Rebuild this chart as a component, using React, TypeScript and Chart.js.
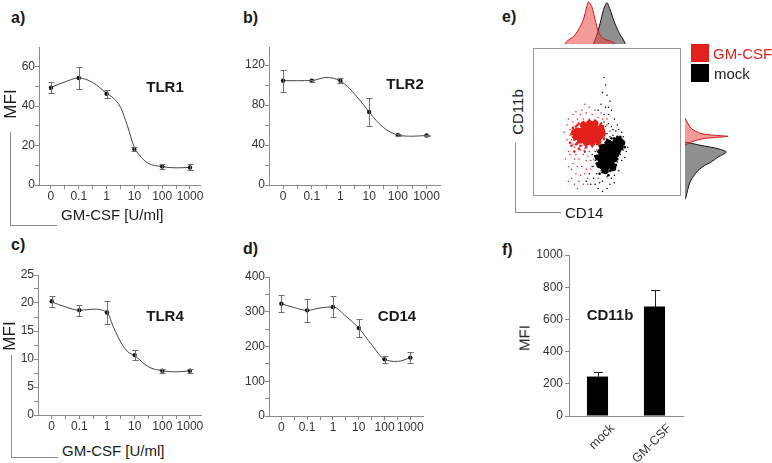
import React, { useEffect, useRef } from 'react';
import { Chart, registerables } from 'chart.js';
Chart.register(...registerables);

// ---------- DATA ----------
const doseLabels = ['0', '0.1', '1', '10', '100', '1000'];
const doseIndex = [0, 1, 2, 3, 4, 5];

const tlr1Mean = [49.3, 54.3, 46.3, 18.3, 9.4, 8.9];
const tlr1Sd = [2.8, 5.6, 2.0, 0.9, 1.2, 1.5];
const tlr1Fit = [[0, 49.5], [0.5, 52.3], [1, 54.3], [1.5, 52], [2, 46.5], [2.25, 44], [2.5, 39.5], [2.75, 30], [3, 19], [3.25, 14], [3.5, 11], [4, 9.3], [4.5, 8.7], [5, 8.9]];

const tlr2Mean = [104.3, 104.3, 104.3, 73, 50, 49.5];
const tlr2Sd = [10.8, 0.8, 2.3, 13.8, 1, 0.8];
const tlr2Fit = [[0, 104.3], [0.5, 104.3], [1, 104.5], [1.5, 107.5], [2, 104], [2.33, 96], [2.67, 85], [3, 73], [3.33, 62], [3.67, 54], [4, 50], [4.5, 48.8], [5, 49.5]];

const tlr4Mean = [20.3, 18.7, 18.3, 10.7, 7.9, 7.9];
const tlr4Sd = [1.0, 1.0, 2.0, 0.9, 0.4, 0.4];
const tlr4Fit = [[0, 20.2], [0.5, 19.3], [1, 18.7], [1.5, 18.9], [2, 18.3], [2.25, 15.5], [2.5, 13], [2.75, 11.3], [3, 10.6], [3.5, 8.6], [4, 7.9], [4.5, 7.7], [5, 7.9]];

const cd14Mean = [323, 304, 314, 253, 163, 168];
const cd14Sd = [24, 33, 30, 26, 10, 16];
const cd14Fit = [[0, 323], [0.5, 312], [1, 304], [1.5, 311], [2, 314], [2.5, 287], [3, 253], [3.5, 205], [4, 163], [4.5, 157], [5, 168]];

const cd11bGroups = ['mock', 'GM-CSF'];
const cd11bMean = [245, 680];
const cd11bSd = [30, 100];

// flow cytometry (CD14, CD11b), arbitrary 0-100 units
const gmCore = [[31, 42], [33, 44], [33, 40], [35, 46], [35, 42], [35, 38], [37, 44], [37, 40], [37, 47], [39, 42], [39, 45], [39, 38], [41, 44], [41, 40], [41, 47], [43, 42], [43, 45], [43, 39], [45, 43], [45, 40], [46, 46], [30, 44], [32, 37.5], [36, 36], [40, 36], [44, 37], [38, 49], [42, 49], [34, 48], [47, 42], [29, 40], [28, 43]];
const gmMid = [[27, 46], [28, 38], [29, 47], [30, 36], [31, 49], [32, 34], [34, 50], [36, 33], [38, 51], [40, 34], [42, 51], [44, 35], [46, 49], [48, 44], [48, 39], [26, 42], [27, 40], [30, 48], [45, 37], [47, 47], [33, 47.5], [29, 35], [31, 32], [35, 30], [26, 34], [28, 30], [25, 36]];
const gmSparse = [[24, 30], [25, 45], [26, 38], [27, 22], [27, 50], [28, 33], [29, 15], [29, 28], [30, 52], [30, 35], [31, 25], [31, 10], [32, 31], [32, 55], [33, 20], [33, 34], [34, 28], [34, 52], [35, 15], [35, 32], [36, 24], [36, 56], [37, 8], [38, 30], [38, 52], [39, 18], [40, 33], [40, 55], [41, 25], [42, 50], [43, 31], [44, 53], [45, 48], [46, 35], [47, 52], [48, 45], [50, 48], [52, 44], [24, 52], [26, 18], [28, 8], [30, 20], [44, 12], [38, 60], [42, 58], [25, 41], [27, 35], [23, 48], [22, 25], [23, 38], [24, 20], [25, 28], [26, 12], [28, 25], [30, 5], [32, 14], [34, 8], [36, 18], [37, 27], [39, 24], [41, 20], [33, 58], [35, 62], [29, 57], [27, 55], [31, 45], [50, 52], [46, 56], [24, 10], [37, 12], [21, 43]];
const mockCore = [[45, 21], [46, 24], [47, 27], [48, 23], [48, 30], [49, 26], [50, 20], [50, 29], [50, 33], [51, 24], [52, 27], [52, 31], [53, 35], [53, 22], [54, 29], [55, 33], [55, 25], [56, 37], [57, 30], [57, 35], [58, 38], [59, 33], [47, 33], [46, 30], [44, 26], [51, 36], [54, 19], [49, 17], [60, 36], [56, 28], [48, 19]];
const mockMid = [[43, 22], [44, 30], [45, 34], [46, 19], [47, 16], [49, 36], [50, 38], [52, 17], [53, 39], [55, 39], [56, 21], [57, 25], [58, 29], [59, 31], [60, 38], [61, 35], [62, 33], [55, 18], [51, 14], [45, 15], [42, 27], [59, 40], [57, 40], [48, 34]];
const mockSparse = [[40, 20], [41, 12], [42, 30], [43, 35], [43, 15], [44, 5], [45, 40], [46, 17], [47, 45], [47, 10], [48, 38], [48, 50], [49, 60], [49, 75], [50, 13], [50, 42], [51, 55], [52, 8], [52, 40], [53, 17], [53, 47], [54, 41], [55, 14], [56, 20], [56, 44], [57, 23], [58, 17], [59, 28], [60, 24], [61, 31], [61, 40], [62, 36], [63, 30], [50, 68], [46, 62], [52, 64], [55, 52], [45, 28], [42, 24], [39, 8], [48, 80], [47, 3], [58, 45], [38, 15], [40, 28], [42, 8], [44, 45], [46, 48], [49, 47], [51, 49], [54, 45], [57, 48], [60, 43], [62, 26], [64, 33], [45, 9], [50, 5], [53, 12], [55, 9], [41, 38], [48, 55], [51, 60], [47, 70], [44, 58], [53, 58], [36, 10]];

// histograms: [CD14, count] and [CD11b, count]
const topHistGm = [[23, 0], [25.2, 9], [28.4, 16.6], [31.6, 31.8], [34.8, 54.5], [37, 84.8], [38.1, 96], [40.3, 84.8], [42.4, 54.5], [44.5, 28], [46.7, 15], [49.9, 9], [53.2, 5], [55.3, 0]];
const topHistMock = [[41.3, 0], [43.5, 20.5], [45.6, 47], [47.7, 77], [49.9, 94], [52.1, 77], [54.2, 54.5], [56.4, 35.7], [58.5, 20.5], [60.6, 9], [61.7, 0]];
const rightHistGm = [[35, 0], [37.2, 14], [39.4, 44], [40.8, 99], [41.5, 68], [42.6, 37], [46, 14], [52.5, 0]];
const rightHistMock = [[0.5, 0], [1.7, 2], [10.3, 10], [14.6, 18], [18.9, 30], [22.1, 45], [24.3, 60], [27.5, 76], [30.7, 95], [32.9, 76], [35, 37], [37.2, 0]];

// ---------- STYLE ----------
const FONT = '"Liberation Sans", Arial, Helvetica, sans-serif';
const AXIS = '#8a8a8a';
const TICK_TXT = '#333';
const RED = '#e3201b';
const PAD_T = 10, PAD_R = 14, Y_W = 40, X_H = 24;

type Plot = { l: number; t: number; r: number; b: number };
const boxFor = (p: Plot, yW = Y_W, xH = X_H) => ({
  left: p.l - yW, top: p.t - PAD_T, width: p.r - p.l + yW + PAD_R, height: p.b - p.t + PAD_T + xH,
});

const errorBarPlugin = {
  id: 'errorBars',
  afterDatasetsDraw(chart: any) {
    const ctx = chart.ctx;
    chart.data.datasets.forEach((ds: any, i: number) => {
      if (!ds.errors) return;
      const meta = chart.getDatasetMeta(i);
      const ys = chart.scales.y;
      ctx.save();
      ctx.strokeStyle = ds.errorColor || '#777';
      ctx.lineWidth = 1;
      meta.data.forEach((el: any, j: number) => {
        const raw = ds.data[j];
        const v = typeof raw === 'number' ? raw : raw.y;
        const e = ds.errors[j];
        const x = Math.round(el.x) + 0.5;
        const yHi = Math.round(ys.getPixelForValue(v + e)) + 0.5;
        const yLo = Math.round(ys.getPixelForValue(ds.upperOnly ? v : v - e)) + 0.5;
        const cw = ds.capWidth || 6;
        ctx.beginPath();
        ctx.moveTo(x, yLo); ctx.lineTo(x, yHi);
        ctx.moveTo(x - cw / 2, yHi); ctx.lineTo(x + cw / 2, yHi);
        if (!ds.upperOnly) { ctx.moveTo(x - cw / 2, yLo); ctx.lineTo(x + cw / 2, yLo); }
        ctx.stroke();
      });
      ctx.restore();
    });
  },
};

const framePlugin = {
  id: 'frame',
  afterDraw(chart: any) {
    const { ctx, chartArea: a } = chart;
    ctx.save();
    ctx.strokeStyle = '#999';
    ctx.lineWidth = 1;
    ctx.strokeRect(a.left + 0.5, a.top + 0.5, a.right - a.left - 1, a.bottom - a.top - 1);
    ctx.restore();
  },
};

const range = (a: number, b: number, s: number) => { const r: number[] = []; for (let v = a; v <= b + 1e-9; v += s) r.push(+v.toFixed(4)); return r; };

function doseConfig(mean: number[], sd: number[], fit: number[][], yMax: number, yStep: number, yLabelEvery: number, yTop: number, xMin: number, xMax: number) {
  const yTicks = range(0, yTop, yStep);
  const xTicks = range(0, 5, 0.5);
  return {
    type: 'line',
    data: {
      datasets: [
        {
          data: mean.map((v, i) => ({ x: doseIndex[i], y: v })),
          showLine: false, pointRadius: 2.2, pointBorderWidth: 0,
          backgroundColor: '#111', borderColor: '#111',
          errors: sd, errorColor: '#6e6e6e', capWidth: 6,
        },
        {
          data: fit.map(([x, y]) => ({ x, y })),
          pointRadius: 0, borderColor: '#444', borderWidth: 1,
          cubicInterpolationMode: 'monotone', fill: false,
        },
      ],
    },
    options: {
      animation: false, responsive: false, events: [],
      layout: { padding: { top: PAD_T, right: PAD_R, left: 0, bottom: 0 } },
      plugins: { legend: { display: false }, tooltip: { enabled: false } },
      scales: {
        x: {
          type: 'linear', min: xMin, max: xMax,
          afterBuildTicks: (s: any) => { s.ticks = xTicks.map((v) => ({ value: v })); },
          afterFit: (s: any) => { s.height = X_H; },
          ticks: {
            autoSkip: false, maxRotation: 0, padding: 0, color: TICK_TXT,
            font: { family: FONT, size: 12 },
            callback: (v: number) => (Number.isInteger(v) ? doseLabels[v] : ''),
          },
          grid: { drawOnChartArea: false, tickLength: 4, color: AXIS },
          border: { color: AXIS },
        },
        y: {
          min: 0, max: yMax,
          afterBuildTicks: (s: any) => { s.ticks = yTicks.map((v) => ({ value: v })); },
          afterFit: (s: any) => { s.width = Y_W; },
          ticks: {
            autoSkip: false, padding: 0, color: TICK_TXT,
            font: { family: FONT, size: 12 },
            callback: (v: number) => (Math.abs(v % yLabelEvery) < 1e-6 ? String(v) : ''),
          },
          grid: { drawOnChartArea: false, tickLength: 4, color: AXIS },
          border: { color: AXIS },
        },
      },
    },
    plugins: [errorBarPlugin],
  };
}

function barConfig() {
  return {
    type: 'bar',
    data: {
      labels: cd11bGroups,
      datasets: [{
        data: cd11bMean, backgroundColor: '#000', borderWidth: 0,
        barPercentage: 0.37, categoryPercentage: 1,
        errors: cd11bSd, errorColor: '#222', capWidth: 9, upperOnly: true,
      }],
    },
    options: {
      animation: false, responsive: false, events: [],
      layout: { padding: { top: PAD_T, right: PAD_R, left: 0, bottom: 0 } },
      plugins: { legend: { display: false }, tooltip: { enabled: false } },
      scales: {
        x: {
          afterFit: (s: any) => { s.height = 47; },
          ticks: {
            minRotation: 45, maxRotation: 45, labelOffset: 15, padding: 5, color: TICK_TXT,
            font: { family: FONT, size: 12.5 },
          },
          grid: { display: false, drawTicks: false },
          border: { color: AXIS },
        },
        y: {
          min: 0, max: 1000,
          afterBuildTicks: (s: any) => { s.ticks = range(0, 1000, 200).map((v) => ({ value: v })); },
          afterFit: (s: any) => { s.width = 45; },
          ticks: { padding: 2, color: TICK_TXT, font: { family: FONT, size: 12 }, callback: (v: number) => String(v) },
          grid: { drawOnChartArea: false, tickLength: 4, color: AXIS },
          border: { color: AXIS },
        },
      },
    },
    plugins: [errorBarPlugin],
  };
}

const hiddenScale = (min: number, max: number) => ({ type: 'linear', min, max, display: false });

function scatterConfig() {
  const pts = (a: number[][]) => a.map(([x, y]) => ({ x, y }));
  return {
    type: 'scatter',
    data: {
      datasets: [
        { data: pts(gmCore), pointRadius: 3.3, backgroundColor: RED, borderWidth: 0 },
        { data: pts(gmMid), pointRadius: 1.3, backgroundColor: RED, borderWidth: 0 },
        { data: pts(gmSparse), pointRadius: 0.75, backgroundColor: RED, borderWidth: 0 },
        { data: pts(mockCore), pointRadius: 3.3, backgroundColor: '#000', borderWidth: 0 },
        { data: pts(mockMid), pointRadius: 1.3, backgroundColor: '#000', borderWidth: 0 },
        { data: pts(mockSparse), pointRadius: 0.75, backgroundColor: '#000', borderWidth: 0 },
      ],
    },
    options: {
      animation: false, responsive: false, events: [],
      plugins: { legend: { display: false }, tooltip: { enabled: false } },
      scales: { x: hiddenScale(0, 100), y: hiddenScale(0, 100) },
    },
    plugins: [framePlugin],
  };
}

function topHistConfig() {
  const pts = (a: number[][]) => a.map(([x, y]) => ({ x, y }));
  return {
    type: 'line',
    data: {
      datasets: [
        { data: pts(topHistGm), fill: 'origin', backgroundColor: 'rgba(236,70,70,0.55)', borderColor: '#d01818', borderWidth: 1, pointRadius: 0, tension: 0.25 },
        { data: pts(topHistMock), fill: 'origin', backgroundColor: 'rgba(105,105,105,0.75)', borderColor: '#111', borderWidth: 1, pointRadius: 0, tension: 0.25 },
      ],
    },
    options: {
      animation: false, responsive: false, events: [],
      plugins: { legend: { display: false }, tooltip: { enabled: false } },
      scales: { x: hiddenScale(0, 100), y: hiddenScale(0, 100) },
    },
  };
}

function rightHistConfig() {
  const pts = (a: number[][]) => a.map(([y, x]) => ({ x, y }));
  return {
    type: 'line',
    data: {
      datasets: [
        { data: pts(rightHistGm), fill: 'origin', backgroundColor: 'rgba(236,70,70,0.55)', borderColor: '#d01818', borderWidth: 1, pointRadius: 0, tension: 0.25 },
        { data: pts(rightHistMock), fill: 'origin', backgroundColor: 'rgba(105,105,105,0.75)', borderColor: '#111', borderWidth: 1, pointRadius: 0, tension: 0.25 },
      ],
    },
    options: {
      indexAxis: 'y',
      animation: false, responsive: false, events: [],
      plugins: { legend: { display: false }, tooltip: { enabled: false } },
      scales: { x: hiddenScale(0, 106), y: hiddenScale(0, 100) },
    },
  };
}

// ---------- COMPONENTS ----------
type Box = { left: number; top: number; width: number; height: number };
function ChartBox({ box, make }: { box: Box; make: () => any }) {
  const ref = useRef<HTMLCanvasElement | null>(null);
  useEffect(() => {
    const c = new Chart(ref.current as HTMLCanvasElement, make());
    return () => c.destroy();
  }, []);
  return (
    <canvas ref={ref} width={box.width} height={box.height}
      style={{ position: 'absolute', left: box.left, top: box.top, width: box.width, height: box.height }} />
  );
}

type TProps = { x: number; y: number; text: string; size?: number; bold?: boolean; color?: string; mode?: 'left' | 'center' | 'rot' };
function T({ x, y, text, size = 15, bold = false, color = '#1a1a1a', mode = 'left' }: TProps) {
  const transform = mode === 'rot' ? 'translate(-50%,-50%) rotate(-90deg)' : mode === 'center' ? 'translate(-50%,-50%)' : 'translateY(-50%)';
  return (
    <div style={{ position: 'absolute', left: x, top: y, transform, fontFamily: FONT, fontSize: size, fontWeight: bold ? 700 : 400, color, whiteSpace: 'nowrap', lineHeight: 1 }}>{text}</div>
  );
}

function Bracket({ x, y1, y2, x2 }: { x: number; y1: number; y2: number; x2: number }) {
  return <div style={{ position: 'absolute', left: x, top: y1, width: x2 - x, height: y2 - y1, borderLeft: `1px solid ${AXIS}`, borderBottom: `1px solid ${AXIS}` }} />;
}

const plotA: Plot = { l: 39, t: 47, r: 200, b: 185 };
const plotB: Plot = { l: 269, t: 47, r: 440, b: 185 };
const plotC: Plot = { l: 38, t: 275, r: 201, b: 415 };
const plotD: Plot = { l: 269, t: 277, r: 423, b: 416 };
const plotF: Plot = { l: 569, t: 255, r: 683, b: 416 };

export default function App() {
  return (
    <div style={{ position: 'absolute', left: 0, top: 0, width: 772, height: 463, background: '#fff', overflow: 'hidden' }}>
      <ChartBox box={boxFor(plotA)} make={() => doseConfig(tlr1Mean, tlr1Sd, tlr1Fit, 70, 10, 20, 60, -0.43, 5.36)} />
      <ChartBox box={boxFor(plotB)} make={() => doseConfig(tlr2Mean, tlr2Sd, tlr2Fit, 138, 20, 40, 120, -0.49, 5.47)} />
      <ChartBox box={boxFor(plotC)} make={() => doseConfig(tlr4Mean, tlr4Sd, tlr4Fit, 25, 2.5, 5, 25, -0.495, 5.4)} />
      <ChartBox box={boxFor(plotD)} make={() => doseConfig(cd14Mean, cd14Sd, cd14Fit, 400, 50, 100, 400, -0.48, 5.49)} />
      <ChartBox box={{ left: plotF.l - 45, top: plotF.t - PAD_T, width: plotF.r - plotF.l + 45 + PAD_R, height: plotF.b - plotF.t + PAD_T + 47 }} make={barConfig} />
      <ChartBox box={{ left: 529, top: 0, width: 156, height: 44 }} make={topHistConfig} />
      <ChartBox box={{ left: 685, top: 44, width: 46, height: 156 }} make={rightHistConfig} />
      <ChartBox box={{ left: 529, top: 44, width: 156, height: 156 }} make={scatterConfig} />

      <T x={11} y={18} text="a)" size={16} bold />
      <T x={243} y={18} text="b)" size={16} bold />
      <T x={11} y={245} text="c)" size={16} bold />
      <T x={243} y={249} text="d)" size={16} bold />
      <T x={502} y={17} text="e)" size={16} bold />
      <T x={502} y={250} text="f)" size={16} bold />

      <T x={165} y={86} text="TLR1" bold mode="center" />
      <T x={405} y={83} text="TLR2" bold mode="center" />
      <T x={165} y={315} text="TLR4" bold mode="center" />
      <T x={397} y={315} text="CD14" bold mode="center" />
      <T x={610} y={314} text="CD11b" bold mode="center" />

      <T x={10} y={104} text="MFI" size={17} mode="rot" />
      <Bracket x={10} y1={132} y2={225} x2={56} />
      <T x={61} y={214} text="GM-CSF [U/ml]" />

      <T x={9} y={336} text="MFI" size={17} mode="rot" />
      <Bracket x={11} y1={355} y2={457} x2={57} />
      <T x={62} y={450} text="GM-CSF [U/ml]" />

      <T x={517} y={112} text="CD11b" mode="rot" />
      <Bracket x={515} y1={143} y2={212} x2={560} />
      <T x={565} y={212} text="CD14" />
      <div style={{ position: 'absolute', left: 691, top: 44, width: 18, height: 18, background: RED }} />
      <div style={{ position: 'absolute', left: 691, top: 64, width: 18, height: 18, background: '#000' }} />
      <T x={713} y={53} text="GM-CSF" color={RED} />
      <T x={714} y={73} text="mock" />

      <T x={524} y={338} text="MFI" size={15} mode="rot" />
    </div>
  );
}
